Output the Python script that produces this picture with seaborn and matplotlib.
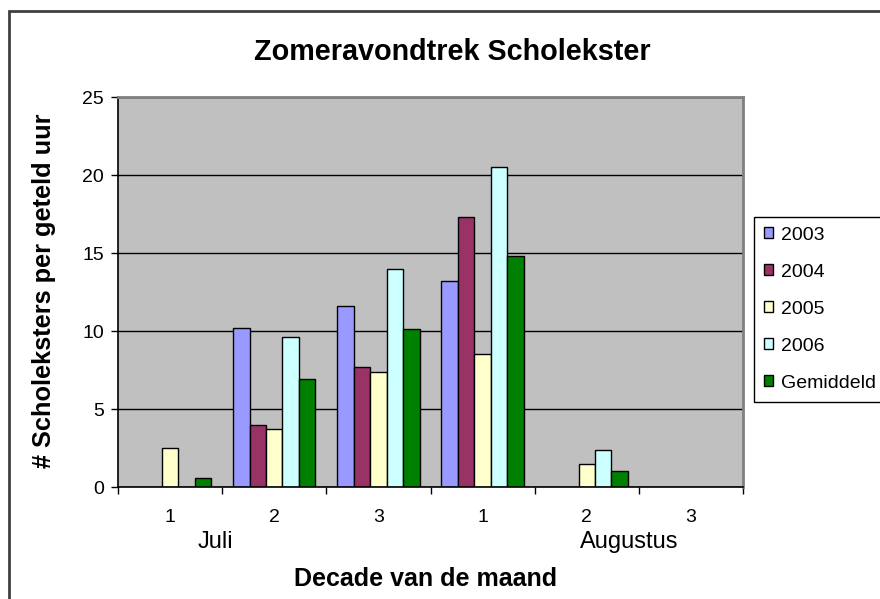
import matplotlib
matplotlib.use("Agg")
import matplotlib.pyplot as plt
import matplotlib.transforms as mtransforms
import seaborn as sns
import pandas as pd
import numpy as np
from matplotlib.patches import Patch, Rectangle

# ---- data ----
decades = ["Juli 1", "Juli 2", "Juli 3", "Augustus 1", "Augustus 2", "Augustus 3"]
tick_labels = ["1", "2", "3", "1", "2", "3"]
months = ["Juli", "Augustus"]
month_pos = [0.44, 4.41]
series = ["2003", "2004", "2005", "2006", "Gemiddeld"]
v2003 = [np.nan, 10.2, 11.6, 13.2, np.nan, np.nan]
v2004 = [np.nan, 4.0, 7.7, 17.3, np.nan, np.nan]
v2005 = [2.5, 3.7, 7.4, 8.5, 1.5, np.nan]
v2006 = [np.nan, 9.6, 14.0, 20.5, 2.4, np.nan]
vgem = [0.6, 6.9, 10.1, 14.8, 1.0, np.nan]
colors = ["#9999FF", "#993366", "#FFFFCC", "#CCFFFF", "#008000"]

rows = []
for name, vals in zip(series, [v2003, v2004, v2005, v2006, vgem]):
    for d, v in zip(decades, vals):
        rows.append({"decade": d, "series": name, "value": v})
df = pd.DataFrame(rows).dropna()

plt.rcParams["font.family"] = ["Liberation Sans", "DejaVu Sans"]

W, H = 880, 599
fig = plt.figure(figsize=(8.8, 5.99), dpi=100)
fig.patch.set_facecolor("white")
ax = fig.add_axes([118 / W, 1 - 487 / H, 625 / W, 390 / H])

sns.barplot(data=df, x="decade", y="value", hue="series", order=decades,
            hue_order=series, palette=colors, width=0.79, edgecolor="black",
            linewidth=1.0, errorbar=None, saturation=1, ax=ax, legend=False)

ax.set_facecolor("#C0C0C0")
ax.set_xlim(-0.5, 5.5)
ax.set_ylim(0, 25)
ax.set_yticks([0, 5, 10, 15, 20, 25])
ax.yaxis.grid(True, color="black", linewidth=1.0)
ax.xaxis.grid(False)
ax.set_axisbelow(True)
ax.set_xlabel("")
ax.set_ylabel("")

for s in ["left", "bottom"]:
    ax.spines[s].set_color("black")
    ax.spines[s].set_linewidth(1.2)
for s in ["top", "right"]:
    ax.spines[s].set_color("#808080")
    ax.spines[s].set_linewidth(2)

ax.tick_params(axis="y", direction="out", length=5, width=1, color="black",
               labelsize=14, pad=5)
ax.set_xticks(np.arange(-0.5, 6, 1))
ax.set_xticklabels([""] * 7)
ax.tick_params(axis="x", which="major", direction="out", length=5, width=1, color="black")
ax.set_xticks(np.arange(len(decades)), minor=True)
ax.set_xticklabels(tick_labels, minor=True)
ax.tick_params(axis="x", which="minor", length=0, labelsize=14, pad=16)

trans = mtransforms.blended_transform_factory(ax.transData, ax.transAxes)
for m, p in zip(months, month_pos):
    ax.text(p, -0.112, m, transform=trans, ha="center", va="top", fontsize=17)

fig.text(452 / W, 1 - 52 / H, "Zomeravondtrek Scholekster", ha="center",
         va="center", fontsize=20.7, fontweight="bold")
fig.text(44 / W, 1 - 291 / H, "# Scholeksters per geteld uur", ha="center",
         va="center", rotation=90, fontsize=18.3, fontweight="bold")
fig.text(426 / W, 1 - 579 / H, "Decade van de maand", ha="center",
         va="center", fontsize=18, fontweight="bold")

handles = [Patch(facecolor=c, edgecolor="black", linewidth=1) for c in colors]
leg = fig.legend(handles, series, loc="upper left",
                 bbox_to_anchor=(754 / W, 1 - 217 / H), frameon=True,
                 fancybox=False, edgecolor="black", framealpha=1, fontsize=14,
                 handlelength=0.5, handleheight=0.5, labelspacing=1.03,
                 borderpad=0.5, handletextpad=0.4, borderaxespad=0)
leg.get_frame().set_linewidth(1)

fig.patches.append(Rectangle((9 / W, -0.2), 2.0, 1.2 - 11 / H, transform=fig.transFigure,
                             fill=False, edgecolor="#404040", linewidth=2))

fig.savefig("out.png", dpi=100)
